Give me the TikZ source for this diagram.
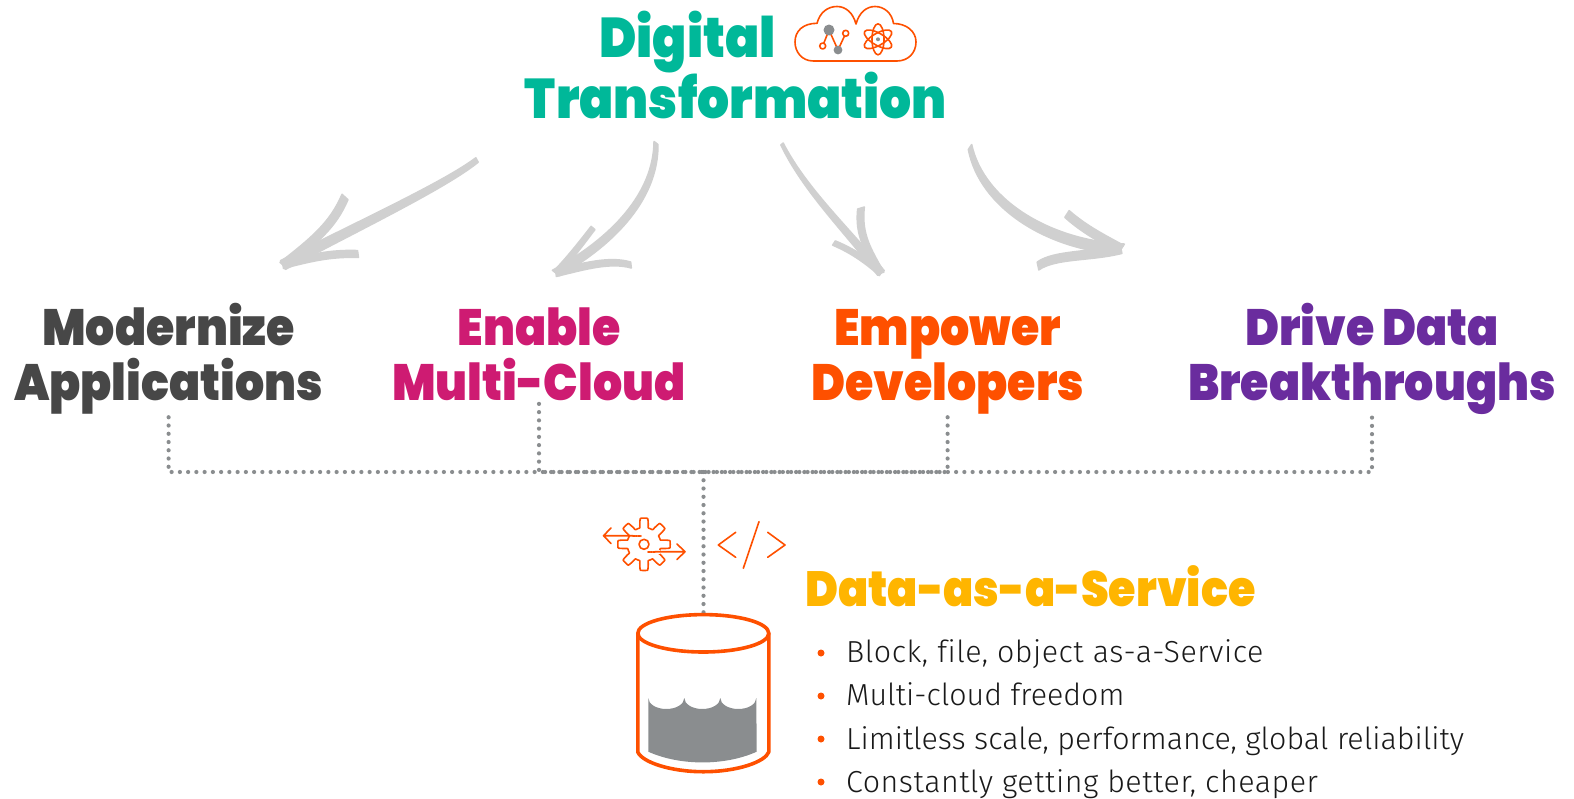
\documentclass[tikz,border=0pt]{standalone}
\usepackage{fontspec}
\usetikzlibrary{calc}
\setmainfont{Liberation Sans}
\newfontfamily\hv{Poppins}[UprightFont=* Black,FakeStretch=0.9]
\newfontfamily\bd{Fira Sans}[UprightFont=* Light,Ligatures=NoCommon]
\definecolor{oran}{HTML}{FE5000}
\definecolor{teal}{HTML}{00B899}
\definecolor{gry}{HTML}{474747}
\definecolor{mag}{HTML}{CE1B72}
\definecolor{purp}{HTML}{6A2C9E}
\definecolor{yel}{HTML}{FFB500}
\definecolor{slate}{HTML}{8A8D8F}
\definecolor{chalk}{HTML}{D0D0D0}
\tikzset{
 head/.style={inner sep=0pt,outer sep=0pt,align=center,anchor=base,font=\hv\fontsize{51}{55}\selectfont},
 title/.style={inner sep=0pt,anchor=base,font=\hv\fontsize{56}{60}\selectfont,text=teal},
 item/.style={inner sep=0pt,anchor=base west,font=\bd\fontsize{30.4}{36}\selectfont,text=black!90},
 dotline/.style={draw=slate,line width=4.2pt,line cap=round,dash pattern=on 0pt off 8.25pt},
 icon/.style={draw=oran,line width=1.6pt,line cap=round,line join=round},
 bul/.style={circle,fill=oran,inner sep=0pt,minimum size=7pt}
}
% tapered chalk stroke: start name, c1, c2, end name, half width at start and at end
\newcommand\tap[6]{%
 \path[fill=chalk,draw=chalk,line width=1.5pt,line join=round] let \p1=(#1),\p2=(#4),\n1={atan2(\y2-\y1,\x2-\x1)+90} in
  ($(#1)+(\n1:#5)$) .. controls ($#2+(\n1:#5*0.7+#6*0.3)$) and ($#3+(\n1:#5*0.3+#6*0.7)$) .. ($(#4)+(\n1:#6)$)
  -- ($(#4)+(\n1:-#6)$) .. controls ($#3+(\n1:-#5*0.3-#6*0.7)$) and ($#2+(\n1:-#5*0.7-#6*0.3)$) .. ($(#1)+(\n1:-#5)$) -- cycle;}
\begin{document}
\begin{tikzpicture}[x=1pt,y=-1pt]
\useasboundingbox (0,0) rectangle (1574,798);
% titles
\node[title] (t1) at (687.5,57) {Digital};
\node[title] (t2) at (736,118) {Transformation};
% cloud icon
\draw[icon] (813.3,61) .. controls (802,61) and (795,52) .. (795,42) .. controls (795,31) and (803,23.3) .. (817,23.3)
 .. controls (820,12) and (828,6.5) .. (837,6.5) .. controls (846,6.5) and (853,13) .. (856,24)
 .. controls (859,13) and (866,6.5) .. (875,6.5) .. controls (884,6.5) and (892,13) .. (893.5,23.5)
 .. controls (906,23.5) and (916,31) .. (916,42) .. controls (916,53) and (908,61) .. (897,61) -- cycle;
\draw[icon] (822.7,46) -- (829,30) -- (838,50) -- (845.7,33.3);
\fill[slate] (829,30) circle (5.5pt) (838,50) circle (4.4pt);
\filldraw[icon,fill=white] (822.7,46) circle (3pt) (845.7,33.3) circle (3pt);
\foreach \a in {90,30,-30}{\draw[icon] (878,39.3) ellipse[x radius=6pt,y radius=15.5pt,rotate=\a-90];}
\fill[slate] (878,39.3) circle (2pt);
% goals
\node[head,text=gry] (mod) at (168.6,400.5) {Modernize\\Applications};
\node[head,text=mag] (ena) at (539,400.5) {Enable\\Multi-Cloud};
\node[head,text=oran] (emp) at (947.6,400.5) {Empower\\Developers};
\node[head,text=purp] (dri) at (1372,400.5) {Drive Data\\Breakthroughs};
% sketch arrows
\coordinate (a1) at (477,160); \coordinate (a1t) at (283,265);
\coordinate (a1u) at (345,197); \coordinate (a1l) at (358,254);
\coordinate (a2) at (656,143); \coordinate (a2t) at (556,273);
\coordinate (a2u) at (593,228); \coordinate (a2l) at (631,265);
\coordinate (a3) at (782,144); \coordinate (a3t) at (881,273);
\coordinate (a3u) at (861,208); \coordinate (a3l) at (834,243);
\coordinate (a4) at (970,147); \coordinate (a4t) at (1121,249);
\coordinate (a4u) at (1067,214); \coordinate (a4l) at (1038,266);
\tap{a1}{(445,185)}{(360,225)}{a1t}{2.5pt}{5pt}
\tap{a1u}{(333,225)}{(315,240)}{a1t}{4pt}{4pt}
\tap{a1l}{(330,253)}{(310,258)}{a1t}{3.5pt}{3.5pt}
\tap{a2}{(656,195)}{(615,240)}{a2t}{2.5pt}{4.5pt}
\tap{a2u}{(580,245)}{(570,258)}{a2t}{2.5pt}{3pt}
\tap{a2l}{(610,259)}{(585,266)}{a2t}{3pt}{3.5pt}
\tap{a3}{(805,190)}{(845,228)}{a3t}{1.5pt}{4pt}
\tap{a3u}{(858,235)}{(868,250)}{a3t}{3.5pt}{3pt}
\tap{a3l}{(855,252)}{(868,262)}{a3t}{2.5pt}{3pt}
\tap{a4}{(982,205)}{(1050,245)}{a4t}{3pt}{6pt}
\tap{a4u}{(1085,230)}{(1105,240)}{a4t}{4pt}{4.5pt}
\tap{a4l}{(1055,254)}{(1090,257)}{a4t}{4pt}{4.5pt}
% dotted connectors
\coordinate (hub) at (703.5,472);
\coordinate (db) at (703.5,614);
\foreach \n in {mod,ena,emp,dri}{\draw[dotline] ([yshift=-3pt]\n.south) |- (hub);}
\draw[dotline] (hub) -- (db);
% gear
\draw[icon,samples=289,domain=0:360,smooth] plot ({644+(21.5+4.7*max(min(2.5*cos(8*\x),1),-1))*cos(\x)},{544.3+(21.5+4.7*max(min(2.5*cos(8*\x),1),-1))*sin(\x)}) -- cycle;
\draw[icon] (644,544.3) circle (5pt);
\draw[draw=white,line width=4pt] (633,535.7) -- (641,535.7) (646,551.7) -- (660,551.7);
\draw[icon] (633,535.7) -- (603.5,535.7) (611,528) -- (603.5,535.7) -- (611,543.5);
\draw[icon,densely dotted] (633,535.7) -- (641,535.7);
\draw[icon,densely dotted] (648,551.7) -- (655,551.7);
\draw[icon] (655,551.7) -- (685,551.7) (677,544) -- (685,551.7) -- (677,559.5);
% code icon
\draw[icon] (735.7,532.3) -- (718.3,545) -- (735.7,557.3);
\draw[icon] (759,521.7) -- (743.3,568.3);
\draw[icon] (767.7,532.3) -- (785,545) -- (767.7,557.3);
% cylinder
\fill[slate,line join=round] (648.3,698) arc[start angle=180,end angle=360,x radius=18pt,y radius=11pt]
 arc[start angle=180,end angle=360,x radius=18pt,y radius=11pt]
 arc[start angle=180,end angle=360,x radius=18pt,y radius=11pt]
 -- (756.7,751.7) .. controls (725,766) and (680,766) .. (648.3,751.7) -- cycle;
\draw[draw=oran,line width=3.6pt,line join=round] (703.3,633.3) ellipse[x radius=65.5pt,y radius=18.7pt];
\draw[draw=oran,line width=3.6pt,line join=round] (637.8,633.3) -- (637.8,752) .. controls (642,762) and (670,771.7) .. (703.3,771.7) .. controls (737,771.7) and (765,762) .. (768.8,752) -- (768.8,633.3);
% data as a service
\node[title,anchor=base west,text=yel,font=\hv\fontsize{49.4}{50}\selectfont] (das) at (805,606) {Data-as-a-Service};
\node[item] (i1) at (846,662.5) {\addfontfeature{LetterSpace=1.7}Block, file, object as-a-Service};
\node[item] (i2) at (846,705.7) {Multi-cloud freedom};
\node[item] (i3) at (846,749) {Limitless scale, performance, global reliability};
\node[item] (i4) at (846,792) {\addfontfeature{LetterSpace=1.7}Constantly getting better, cheaper};
\node[bul] (b1) at (821,653) {};
\node[bul] (b2) at (821,696) {};
\node[bul] (b3) at (821,739) {};
\node[bul] (b4) at (821,782) {};
\end{tikzpicture}
\end{document}
